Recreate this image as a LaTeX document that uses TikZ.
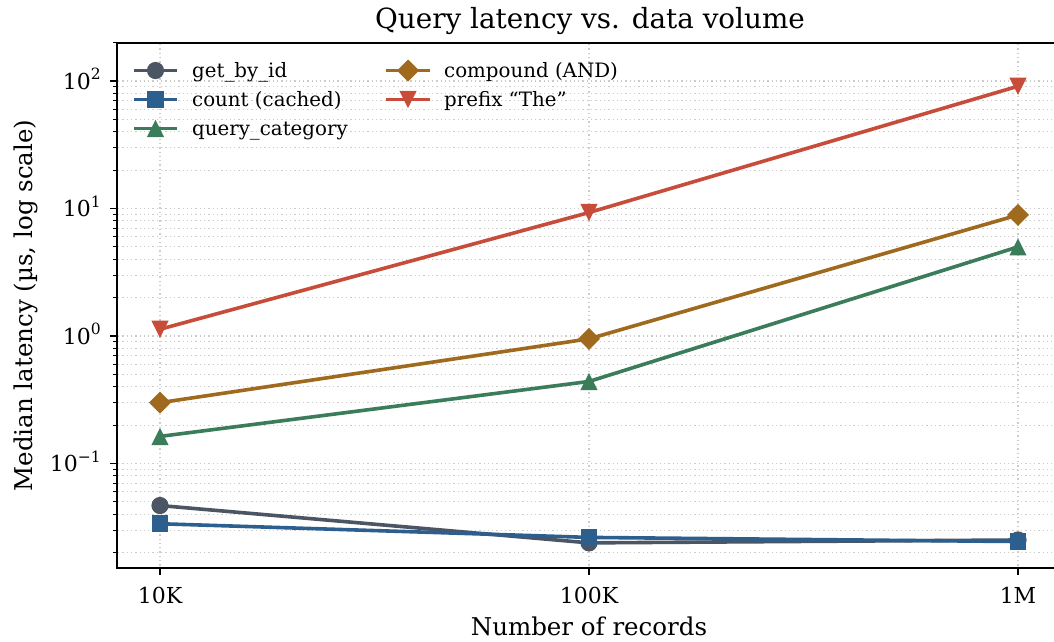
\documentclass[tikz,border=0pt]{standalone}
\usepackage{fontspec}
\setmainfont{DejaVu Serif}
\definecolor{cgray}{HTML}{4B5563}
\definecolor{cblue}{HTML}{2C5F8E}
\definecolor{cgreen}{HTML}{3B7D5A}
\definecolor{cbrown}{HTML}{A06A1E}
\definecolor{cred}{HTML}{C84C3A}
\definecolor{cgrid}{HTML}{CCCCCC}
\newcommand\Ex[1]{10\raisebox{0.42em}{\fontsize{15.5}{16}\selectfont #1}}
\tikzset{
  gridline/.style={cgrid, line width=1.1pt, dash pattern=on 1.3pt off 3pt},
  spine/.style={black, line width=1.6pt},
  tickmark/.style={black, line width=1.3pt},
  series/.style={line width=3.6pt, line join=round, line cap=round},
  ticklabel/.style={font=\fontsize{22}{26}\selectfont, inner sep=0pt},
  axlabel/.style={font=\fontsize{24.5}{28}\selectfont, inner sep=0pt},
  legtext/.style={font=\fontsize{19.8}{24}\selectfont, inner sep=0pt, anchor=base west},
  pics/mcirc/.style={code={\fill[#1] (0,0) circle (8.6pt);}},
  pics/msq/.style={code={\fill[#1] (-8.3,-8.3) rectangle (8.3,8.3);}},
  pics/mtri/.style={code={\fill[#1] (0,-8.6) -- (8.6,8.6) -- (-8.6,8.6) -- cycle;}},
  pics/mdtri/.style={code={\fill[#1] (0,8.6) -- (8.6,-8.6) -- (-8.6,-8.6) -- cycle;}},
  pics/mdia/.style={code={\fill[#1] (0,-11) -- (11,0) -- (0,11) -- (-11,0) -- cycle;}},
}
\begin{document}
\begin{tikzpicture}[x=1pt,y=-1pt]
\useasboundingbox (0,0) rectangle (1054,641);
\fill[white] (0,0) rectangle (1054,641);

% horizontal grid and y ticks
\foreach \d in {-2,-1,0,1,2}{
  \foreach \k in {1,...,9}{
    \pgfmathsetmacro\yy{336-(\d+log10(\k))*127.5}
    \ifdim\yy pt>42pt \ifdim\yy pt<569pt
      \draw[gridline] (118,\yy) -- (1054,\yy);
      \ifnum\k=1
        \draw[tickmark] (117,\yy) -- (110,\yy);
      \else
        \draw[tickmark, line width=1pt] (117,\yy) -- (113,\yy);
      \fi
    \fi\fi
  }
}
% vertical grid and x ticks
\foreach \xx in {160,589,1018}{
  \draw[gridline] (\xx,44) -- (\xx,567);
  \draw[tickmark] (\xx,568) -- (\xx,575);
}

% spines
\draw[spine] (1054,43) -- (117,43) -- (117,568) -- (1054,568);

% tick labels
\node[ticklabel, anchor=base] (x1) at (160,603) {10K};
\node[ticklabel, anchor=base] (x2) at (589,603) {100K};
\node[ticklabel, anchor=base] (x3) at (1018,603) {1M};
\node[ticklabel, anchor=base east] (y2) at (101,89) {\Ex{2}};
\node[ticklabel, anchor=base east] (y1) at (101,216.5) {\Ex{1}};
\node[ticklabel, anchor=base east] (y0) at (101,344) {\Ex{0}};
\node[ticklabel, anchor=base east] (ym1) at (101,471.5) {\Ex{−1}};

% axis labels and title
\node[axlabel, anchor=base] (xlab) at (589,635) {Number of records};
\node[axlabel, anchor=base, rotate=90] (ylab) at (32,305.5) {Median latency (µs, log scale)};
\node[font=\fontsize{27.8}{32}\selectfont, inner sep=0pt, anchor=base] (title) at (590,28) {Query latency vs. data volume};

% data points
\coordinate (g1) at (160,{336-log10(0.0467)*127.5});
\coordinate (g2) at (589,{336-log10(0.0238)*127.5});
\coordinate (g3) at (1018,{336-log10(0.0251)*127.5});
\coordinate (c1) at (160,{336-log10(0.0330)*127.5});
\coordinate (c2) at (589,{336-log10(0.0263)*127.5});
\coordinate (c3) at (1018,{336-log10(0.0244)*127.5});
\coordinate (q1) at (160,{336-log10(0.162)*127.5});
\coordinate (q2) at (589,{336-log10(0.44)*127.5});
\coordinate (q3) at (1018,{336-log10(5.0)*127.5});
\coordinate (a1) at (160,{336-log10(0.30)*127.5});
\coordinate (a2) at (589,{336-log10(0.95)*127.5});
\coordinate (a3) at (1018,{336-log10(8.9)*127.5});
\coordinate (p1) at (160,{336-log10(1.13)*127.5});
\coordinate (p2) at (589,{336-log10(9.3)*127.5});
\coordinate (p3) at (1018,{336-log10(91)*127.5});

\draw[series, cgray] (g1) -- (g2) -- (g3);
\foreach \n in {g1,g2,g3} \pic at (\n) {mcirc=cgray};
\draw[series, cblue] (c1) -- (c2) -- (c3);
\foreach \n in {c1,c2,c3} \pic at (\n) {msq=cblue};
\draw[series, cgreen] (q1) -- (q2) -- (q3);
\foreach \n in {q1,q2,q3} \pic at (\n) {mtri=cgreen};
\draw[series, cbrown] (a1) -- (a2) -- (a3);
\foreach \n in {a1,a2,a3} \pic at (\n) {mdia=cbrown};
\draw[series, cred] (p1) -- (p2) -- (p3);
\foreach \n in {p1,p2,p3} \pic at (\n) {mdtri=cred};

% legend
\coordinate (l1a) at (134,70.5); \coordinate (l1b) at (177,70.5);
\coordinate (l2a) at (134,99.5); \coordinate (l2b) at (177,99.5);
\coordinate (l3a) at (134,128.5); \coordinate (l3b) at (177,128.5);
\coordinate (l4a) at (386,70.5); \coordinate (l4b) at (430,70.5);
\coordinate (l5a) at (386,99.5); \coordinate (l5b) at (430,99.5);
\draw[series, cgray, line cap=butt] (l1a) -- (l1b); \pic at (155.5,70.5) {mcirc=cgray};
\draw[series, cblue, line cap=butt] (l2a) -- (l2b); \pic at (155.5,99.5) {msq=cblue};
\draw[series, cgreen, line cap=butt] (l3a) -- (l3b); \pic at (155.5,128.5) {mtri=cgreen};
\draw[series, cbrown, line cap=butt] (l4a) -- (l4b); \pic at (408,70.5) {mdia=cbrown};
\draw[series, cred, line cap=butt] (l5a) -- (l5b); \pic at (408,99.5) {mdtri=cred};
\node[legtext] (t1) at (192,77.5) {get\_by\_id};
\node[legtext] (t2) at (192,106.5) {count (cached)};
\node[legtext] (t3) at (192,135.5) {query\_category};
\node[legtext] (t4) at (444,77.5) {compound (AND)};
\node[legtext] (t5) at (444,106.5) {prefix “The”};
\end{tikzpicture}
\end{document}
